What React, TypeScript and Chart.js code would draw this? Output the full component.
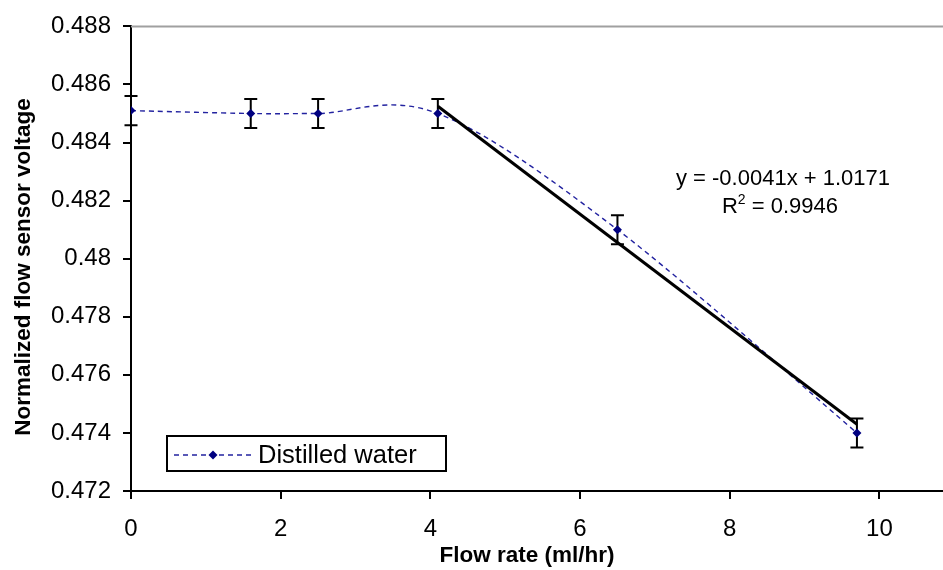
import React, { useEffect, useRef } from "react";
import { Chart, registerables } from "chart.js";

Chart.register(...registerables);

// ---- data ----
const xValues = [0, 1.6, 2.5, 4.1, 6.5, 9.7];
const yValues = [0.4851, 0.485, 0.485, 0.485, 0.481, 0.474];
const yErrors = [0.0005, 0.0005, 0.0005, 0.0005, 0.0005, 0.0005];
const trendX = [4.1, 9.7];
const trendY = [0.48525, 0.4743];
const seriesLabel = "Distilled water";
const xTitle = "Flow rate (ml/hr)";
const yTitle = "Normalized flow sensor voltage";
const equationText = "y = -0.0041x + 1.0171";
const r2Value = "0.9946";
const xAxisMin = 0;
const xAxisMax = 10.85;
const xStep = 2;
const yAxisMin = 0.472;
const yAxisMax = 0.488;
const yStep = 0.002;

const FONT = "'Liberation Sans', Arial, sans-serif";
const LINE_COLOR = "#2323a0";
const POINT_COLOR = "#000080";

// Excel-style smoothing (Catmull-Rom, 1/6 chord control points) applied to
// the library's own point elements.
const smoothPlugin = {
  id: "excelSmooth",
  afterDatasetsUpdate(chart: any) {
    const meta = chart.getDatasetMeta(0);
    const pts = meta.data;
    const n = pts.length;
    for (let i = 0; i < n; i++) {
      const prev = pts[Math.max(i - 1, 0)];
      const next = pts[Math.min(i + 1, n - 1)];
      const dx = (next.x - prev.x) / 6;
      const dy = (next.y - prev.y) / 6;
      pts[i].cp1x = pts[i].x - dx;
      pts[i].cp1y = pts[i].y - dy;
      pts[i].cp2x = pts[i].x + dx;
      pts[i].cp2y = pts[i].y + dy;
    }
    if (meta.dataset) {
      meta.dataset._pointsUpdated = true;
      meta.dataset._path = undefined;
    }
  },
};

const customPlugin = {
  id: "customDraw",
  beforeDatasetsDraw(chart: any) {
    const { ctx, scales } = chart;
    const xs = scales.x;
    const ys = scales.y;
    ctx.save();
    ctx.strokeStyle = "#000";
    ctx.lineWidth = 2;
    xValues.forEach((xv, i) => {
      const px = xs.getPixelForValue(xv);
      const top = ys.getPixelForValue(yValues[i] + yErrors[i]);
      const bot = ys.getPixelForValue(yValues[i] - yErrors[i]);
      ctx.beginPath();
      ctx.moveTo(px, top);
      ctx.lineTo(px, bot);
      ctx.moveTo(px - 6.5, top);
      ctx.lineTo(px + 6.5, top);
      ctx.moveTo(px - 6.5, bot);
      ctx.lineTo(px + 6.5, bot);
      ctx.stroke();
    });
    ctx.restore();
  },
  afterDraw(chart: any) {
    const { ctx, chartArea } = chart;
    ctx.save();
    // top border of plot area
    ctx.strokeStyle = "#a0a0a0";
    ctx.lineWidth = 2;
    ctx.beginPath();
    ctx.moveTo(chartArea.left, chartArea.top);
    ctx.lineTo(chartArea.right, chartArea.top);
    ctx.stroke();

    ctx.fillStyle = "#000";
    // x title
    ctx.font = `bold 22.5px ${FONT}`;
    ctx.textAlign = "center";
    ctx.textBaseline = "alphabetic";
    ctx.fillText(xTitle, 527, 562);
    // y title
    ctx.save();
    ctx.translate(30, 267);
    ctx.rotate(-Math.PI / 2);
    ctx.fillText(yTitle, 0, 0);
    ctx.restore();

    // equation
    ctx.font = `22px ${FONT}`;
    ctx.textAlign = "center";
    ctx.fillText(equationText, 783, 185);
    // R^2 line
    const rest = " = " + r2Value;
    const wR = ctx.measureText("R").width;
    ctx.font = `14px ${FONT}`;
    const w2 = ctx.measureText("2").width;
    ctx.font = `22px ${FONT}`;
    const wRest = ctx.measureText(rest).width;
    const total = wR + w2 + wRest;
    const sx = 780 - total / 2;
    ctx.textAlign = "left";
    ctx.fillText("R", sx, 213);
    ctx.font = `14px ${FONT}`;
    ctx.fillText("2", sx + wR, 204);
    ctx.font = `22px ${FONT}`;
    ctx.fillText(rest, sx + wR + w2, 213);

    // legend box
    const ds = chart.data.datasets[0];
    ctx.strokeStyle = "#000";
    ctx.lineWidth = 2;
    ctx.fillStyle = "#fff";
    ctx.fillRect(167, 436, 279, 35);
    ctx.strokeRect(167, 436, 279, 35);
    ctx.strokeStyle = ds.borderColor;
    ctx.lineWidth = ds.borderWidth;
    ctx.setLineDash(ds.borderDash);
    ctx.beginPath();
    ctx.moveTo(174, 455);
    ctx.lineTo(253, 455);
    ctx.stroke();
    ctx.setLineDash([]);
    ctx.fillStyle = ds.pointBackgroundColor;
    ctx.beginPath();
    ctx.moveTo(213, 450.5);
    ctx.lineTo(217.5, 455);
    ctx.lineTo(213, 459.5);
    ctx.lineTo(208.5, 455);
    ctx.closePath();
    ctx.fill();
    ctx.fillStyle = "#000";
    ctx.font = `25.5px ${FONT}`;
    ctx.textAlign = "left";
    ctx.fillText(ds.label, 258, 463);
    ctx.restore();
  },
};

export default function App() {
  const canvasRef = useRef<HTMLCanvasElement | null>(null);

  useEffect(() => {
    if (!canvasRef.current) return;
    const chart = new Chart(canvasRef.current, {
      type: "line",
      data: {
        datasets: [
          {
            label: seriesLabel,
            data: xValues.map((x, i) => ({ x, y: yValues[i] })),
            borderColor: LINE_COLOR,
            borderWidth: 1.4,
            borderDash: [5, 4],
            pointStyle: "rectRot",
            pointRadius: 4.5,
            pointBackgroundColor: POINT_COLOR,
            pointBorderColor: POINT_COLOR,
            pointBorderWidth: 0,
            tension: 0.4,
            fill: false,
            order: 1,
          },
          {
            label: "Linear trend",
            data: trendX.map((x, i) => ({ x, y: trendY[i] })),
            borderColor: "#000",
            borderWidth: 3,
            pointRadius: 0,
            tension: 0,
            fill: false,
            order: 0,
          },
        ],
      },
      options: {
        animation: false,
        responsive: false,
        maintainAspectRatio: false,
        layout: { autoPadding: false, padding: { top: 22, left: 0, right: 0, bottom: 0 } },
        plugins: {
          legend: { display: false },
          tooltip: { enabled: false },
          title: { display: false },
        },
        scales: {
          x: {
            type: "linear",
            min: xAxisMin,
            max: xAxisMax,
            afterFit: (s: any) => {
              s.height = 79;
            },
            ticks: {
              stepSize: xStep,
              includeBounds: false,
              color: "#000",
              font: { family: FONT, size: 24 },
              padding: 16,
              maxRotation: 0,
            },
            grid: {
              drawOnChartArea: false,
              drawTicks: true,
              tickLength: 8,
              color: "#000",
              lineWidth: 2,
            },
            border: { color: "#000", width: 2 },
          },
          y: {
            type: "linear",
            min: yAxisMin,
            max: yAxisMax,
            afterFit: (s: any) => {
              s.width = 131;
            },
            ticks: {
              stepSize: yStep,
              color: "#000",
              font: { family: FONT, size: 24 },
              padding: 12,
              callback: (v: any) => Number(Number(v).toFixed(3)).toString(),
            },
            grid: {
              drawOnChartArea: false,
              drawTicks: true,
              tickLength: 8,
              color: "#000",
              lineWidth: 2,
            },
            border: { color: "#000", width: 2 },
          },
        },
      },
      plugins: [smoothPlugin, customPlugin],
    });
    return () => chart.destroy();
  }, []);

  return (
    <div style={{ position: "fixed", left: 0, top: 0, width: 943, height: 570, background: "#fff" }}>
      <canvas ref={canvasRef} width={943} height={570} />
    </div>
  );
}
